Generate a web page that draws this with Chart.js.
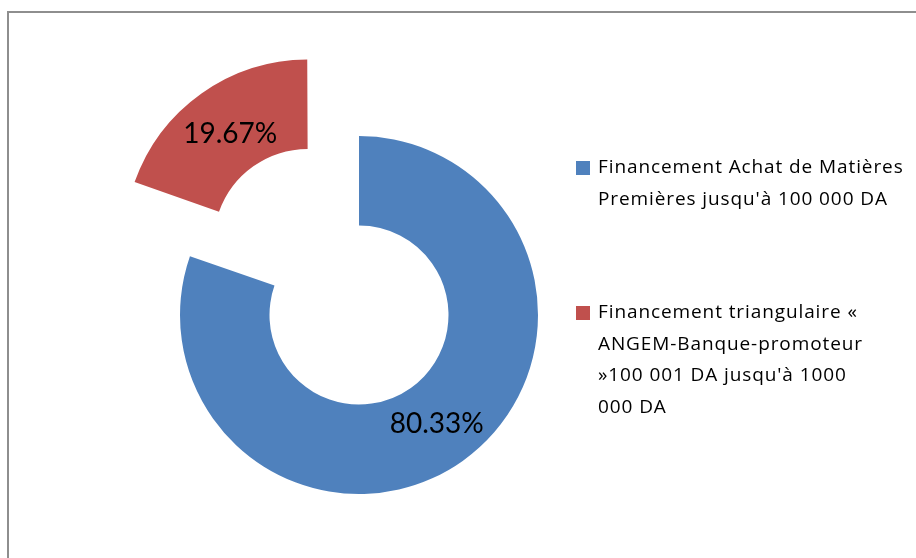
<!DOCTYPE html>
<html>
<head>
<meta charset="utf-8">
<script src="https://cdn.jsdelivr.net/npm/chart.js@4/dist/chart.umd.min.js"></script>
<style>
  html, body { margin: 0; padding: 0; background: #fff; }
  #wrap { position: relative; width: 916px; height: 558px; overflow: hidden; }
  #frame {
    position: absolute; left: 7px; top: 11px; width: 1000px; height: 700px;
    border: 2px solid #8e8e8e; box-sizing: border-box;
  }
  #pieChart { position: absolute; left: 0; top: 0; }
  #legend {
    position: absolute; left: 576px; top: 151px;
    font-family: "Open Sans", Lato, sans-serif; font-size: 19px; line-height: 31.5px; color: #000;
    letter-spacing: 0.9px; font-variant-ligatures: none; white-space: nowrap;
  }
  .legend__item { display: flex; align-items: flex-start; margin-bottom: 82px; }
  .legend__box { width: 14px; height: 14px; margin-top: 10px; margin-right: 8px; flex: none; }
  #probe { position: absolute; left: -999px; top: 0; font: 28px Lato; }
</style>
</head>
<body>
<div id="wrap">
  <div id="frame"></div>
  <canvas id="pieChart" width="916" height="558"></canvas>
  <div id="legend"></div>
</div>
<span id="probe">80.33%</span>
<script>
// legend labels, already broken into lines like the original
const categories = [
  ["Financement Achat de Matières", "Premières jusqu'à 100 000 DA"],
  ["Financement triangulaire «", "ANGEM-Banque-promoteur", "»100 001 DA jusqu'à 1000", "000 DA"]
];
const shares = [80.33, 19.67];
const colors = ['#4F81BD', '#C0504D'];
const explode = [0, 88]; // px the slice is pulled out

// arc element moves by offset / 4
const arcOffsets = explode.map(v => v * 4);
const labelFont = '28px Lato';

const sliceLabels = {
  id: 'sliceLabels',
  afterDatasetsDraw(chart) {
    const ctx = chart.ctx;
    const meta = chart.getDatasetMeta(0);
    ctx.save();
    ctx.font = labelFont + ', sans-serif';
    ctx.fillStyle = '#000';
    ctx.textAlign = 'center';
    ctx.textBaseline = 'middle';
    meta.data.forEach((arc, i) => {
      const {x, y, startAngle, endAngle, innerRadius, outerRadius} = arc.getProps(['x', 'y', 'startAngle', 'endAngle', 'innerRadius', 'outerRadius'], true);
      const mid = (startAngle + endAngle) / 2;
      const r = (innerRadius + outerRadius) / 2 + explode[i];
      const txt = shares[i].toFixed(2) + '%';
      ctx.fillText(txt, x + Math.cos(mid) * r, y + Math.sin(mid) * r);
    });
    ctx.restore();
  }
};

function drawChart() {
  const pieCanvas = document.getElementById('pieChart');
  const pieChart = new Chart(pieCanvas, {
    type: 'doughnut',
    data: {
      labels: categories.map(l => l.join(' ')),
      datasets: [{
        data: shares,
        backgroundColor: colors,
        borderWidth: 0,
        offset: arcOffsets,
        hoverOffset: 0
      }]
    },
    options: {
      responsive: false,
      animation: false,
      radius: 179,
      cutout: '50%',
      layout: {
        padding: {left: 180, right: 378, top: 136, bottom: 64}
      },
      plugins: {
        legend: {display: false},
        tooltip: {enabled: false}
      }
    },
    plugins: [sliceLabels]
  });

  // html legend, built from the chart's data
  const legendEl = document.getElementById('legend');
  pieChart.data.labels.forEach((lbl, i) => {
    const item = document.createElement('div');
    item.className = 'legend__item';
    const box = document.createElement('span');
    box.className = 'legend__box';
    box.style.background = pieChart.data.datasets[0].backgroundColor[i];
    const text = document.createElement('div');
    text.innerHTML = categories[i].map(s => s.replace(/&/g, '&amp;').replace(/</g, '&lt;')).join('<br>');
    item.appendChild(box);
    item.appendChild(text);
    legendEl.appendChild(item);
  });
}

Promise.all([document.fonts.load(labelFont), document.fonts.load('19px "Open Sans"')])
  .catch(() => {})
  .then(() => document.fonts.ready)
  .then(() => requestAnimationFrame(drawChart));
</script>
</body>
</html>
